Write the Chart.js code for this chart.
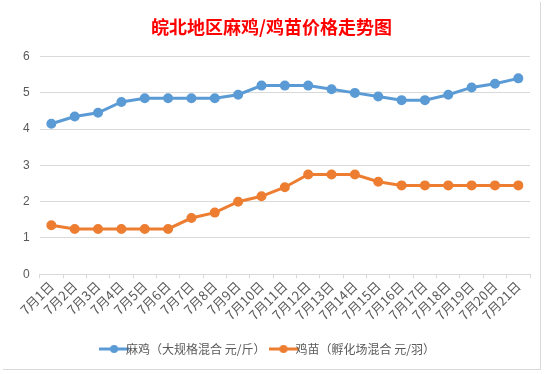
<!DOCTYPE html>
<html>
<head>
<meta charset="utf-8">
<script src="https://cdn.jsdelivr.net/npm/chart.js@4"></script>
<style>
  html, body { margin: 0; padding: 0; background: #fff; }
  #wrap { position: absolute; left: 3px; top: 2px; width: 537px; height: 367px; border-right: 1px solid #d9d9d9; border-bottom: 1px solid #d9d9d9; background: #fff; }
</style>
</head>
<body>
<div id="wrap"><canvas id="priceChart" width="537" height="367"></canvas></div>
<script>
'use strict';

let days = ['7月1日', '7月2日', '7月3日', '7月4日', '7月5日', '7月6日', '7月7日', '7月8日', '7月9日', '7月10日',
  '7月11日', '7月12日', '7月13日', '7月14日', '7月15日', '7月16日', '7月17日', '7月18日', '7月19日', '7月20日', '7月21日'];
let chickenPrices = [4.15, 4.35, 4.45, 4.75, 4.85, 4.85, 4.85, 4.85, 4.95, 5.2, 5.2, 5.2, 5.1, 5.0, 4.9, 4.8, 4.8, 4.95, 5.15, 5.25, 5.4];
let chickPrices = [1.35, 1.25, 1.25, 1.25, 1.25, 1.25, 1.55, 1.7, 2.0, 2.15, 2.4, 2.75, 2.75, 2.75, 2.55, 2.45, 2.45, 2.45, 2.45, 2.45, 2.45];
let seriesNames = ['麻鸡（大规格混合 元/斤）', '鸡苗（孵化场混合 元/羽）'];
let seriesColors = ['#5b9bd5', '#ed7d31'];
let yTicks = [0, 1, 2, 3, 4, 5, 6];

let cjk = '"Noto Sans CJK SC", "Noto Sans", sans-serif';

// small line-with-dot icon for the legend, like the spreadsheet one
function legendIcon(color) {
  let c = document.createElement('canvas');
  c.width = 30;
  c.height = 10;
  let ctx = c.getContext('2d');
  ctx.strokeStyle = color;
  ctx.lineWidth = 3;
  ctx.beginPath();
  ctx.moveTo(0, 5);
  ctx.lineTo(30, 5);
  ctx.stroke();
  ctx.fillStyle = color;
  ctx.beginPath();
  ctx.arc(15, 5, 4, 0, Math.PI * 2);
  ctx.fill();
  return c;
}

let icons = seriesColors.map(legendIcon);

// eslint-disable-next-line no-unused-vars
let chart = new Chart(document.getElementById('priceChart').getContext('2d'), {
  type: 'line',
  data: {
    labels: days,
    datasets: [{
      label: seriesNames[0],
      data: chickenPrices,
      borderColor: seriesColors[0],
      backgroundColor: seriesColors[0],
      borderWidth: 3,
      pointRadius: 3.5,
      pointHoverRadius: 3.5,
      tension: 0
    },
    {
      label: seriesNames[1],
      data: chickPrices,
      borderColor: seriesColors[1],
      backgroundColor: seriesColors[1],
      borderWidth: 3,
      pointRadius: 3.5,
      pointHoverRadius: 3.5,
      tension: 0
    }]
  },
  options: {
    responsive: false,
    animation: false,
    layout: { padding: { left: 10, right: 10, top: 11, bottom: 4 } },
    plugins: {
      title: {
        display: true,
        text: '皖北地区麻鸡/鸡苗价格走势图',
        color: '#ff0000',
        font: { family: cjk, size: 18, weight: 'bold' },
        padding: { top: 3, bottom: 19 }
      },
      legend: {
        position: 'bottom',
        labels: {
          color: '#595959',
          font: { family: cjk, size: 12 },
          usePointStyle: true,
          padding: 12,
          generateLabels: function (ch) {
            return ch.data.datasets.map(function (ds, i) {
              return {
                text: ds.label,
                pointStyle: icons[i],
                fillStyle: ds.borderColor,
                strokeStyle: ds.borderColor,
                fontColor: '#595959',
                datasetIndex: i,
                hidden: false
              };
            });
          }
        }
      },
      tooltip: { enabled: false }
    },
    scales: {
      x: {
        offset: true,
        grid: { display: true, drawOnChartArea: false, drawTicks: true, tickLength: 4, offset: true, color: '#d9d9d9' },
        border: { color: '#d9d9d9' },
        ticks: {
          color: '#595959',
          font: { family: cjk, size: 13 },
          minRotation: 45,
          maxRotation: 45,
          autoSkip: false,
          padding: 0
        },
        afterFit: function (axis) {
          axis.height += 8;
        }
      },
      y: {
        min: yTicks[0],
        max: yTicks[yTicks.length - 1],
        grid: { color: '#d9d9d9', drawTicks: false },
        border: { display: false },
        ticks: {
          stepSize: 1,
          color: '#595959',
          font: { family: 'Liberation Sans, Arial, sans-serif', size: 12 },
          padding: 10
        }
      }
    }
  }
});
</script>
</body>
</html>
